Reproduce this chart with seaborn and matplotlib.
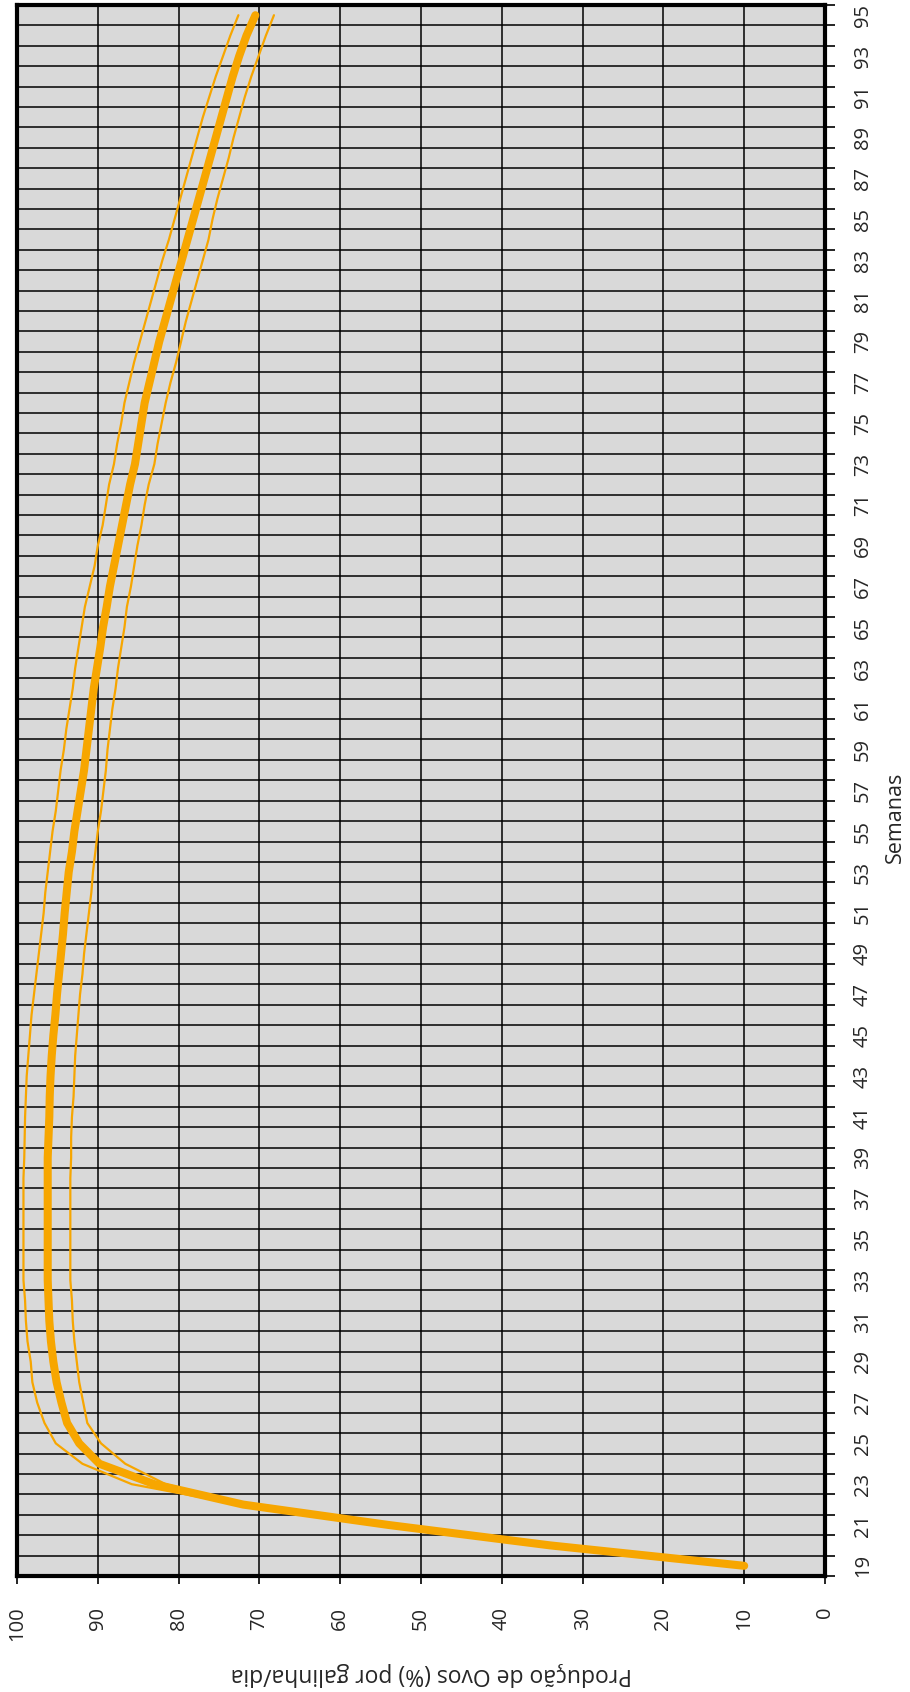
import numpy as np
import pandas as pd
import matplotlib
matplotlib.use("Agg")
import matplotlib.pyplot as plt
import seaborn as sns

# semanas de idade (eixo de categorias)
semanas = list(range(19, 96))

# producao media (% por galinha/dia), semanas 19..95
media = [10.0, 34.0, 54.0, 72.0, 83.0, 89.8, 92.3, 93.8, 94.5, 95.1,
         95.5, 95.8, 96.0, 96.1, 96.2, 96.2, 96.2, 96.2, 96.2, 96.2,
         96.2, 96.1, 96.0, 95.95, 95.85, 95.7, 95.5, 95.25, 95.05, 94.8,
         94.55, 94.3, 94.1, 93.85, 93.6, 93.2, 92.9, 92.5, 92.1, 91.7,
         91.4, 91.1, 90.8, 90.5, 90.1, 89.7, 89.35, 88.9, 88.5, 88.0,
         87.5, 87.0, 86.5, 86.0, 85.4, 85.0, 84.6, 84.2, 83.6, 83.0,
         82.4, 81.7, 81.0, 80.3, 79.6, 78.9, 78.2, 77.5, 76.8, 76.1,
         75.4, 74.7, 74.0, 73.3, 72.5, 71.6, 70.5]

# limites superior e inferior, semanas 22..95
semanas_faixa = list(range(22, 96))
superior = [72.4, 85.8, 91.9, 95.2, 96.6, 97.5, 98.1, 98.3, 98.7, 98.9,
            99.0, 99.2, 99.2, 99.2, 99.2, 99.2, 99.2, 99.1, 99.05, 99.0,
            98.9, 98.8, 98.6, 98.4, 98.2, 97.9, 97.6, 97.3, 97.0, 96.7,
            96.5, 96.2, 95.9, 95.6, 95.2, 94.9, 94.6, 94.2, 93.9, 93.5,
            93.1, 92.8, 92.4, 92.0, 91.6, 91.0, 90.4, 90.0, 89.4, 89.0,
            88.6, 88.0, 87.6, 87.1, 86.7, 86.1, 85.5, 84.8, 84.1, 83.4,
            82.7, 82.0, 81.2, 80.5, 79.8, 79.1, 78.4, 77.7, 77.0, 76.2,
            75.4, 74.5, 73.6, 72.6]
inferior = [71.7, 81.6, 86.6, 89.6, 91.3, 91.8, 92.3, 92.6, 92.9, 93.1,
            93.2, 93.4, 93.4, 93.4, 93.4, 93.4, 93.4, 93.3, 93.3, 93.2,
            93.0, 92.9, 92.8, 92.6, 92.4, 92.2, 91.9, 91.7, 91.4, 91.1,
            90.8, 90.6, 90.3, 90.0, 89.6, 89.3, 89.0, 88.8, 88.5, 88.2,
            87.8, 87.5, 87.1, 86.7, 86.4, 85.9, 85.5, 85.1, 84.6, 84.2,
            83.7, 83.0, 82.6, 82.1, 81.6, 81.0, 80.3, 79.7, 79.1, 78.4,
            77.7, 77.0, 76.3, 75.8, 75.2, 74.5, 73.8, 73.2, 72.5, 71.8,
            71.0, 70.1, 69.2, 68.2]

df_media = pd.DataFrame({"semana": semanas, "producao": media})
df_faixa = pd.DataFrame({"semana": semanas_faixa, "superior": superior,
                         "inferior": inferior})

sns.set_style("white", {"axes.facecolor": "#D9D9D9"})
plt.rcParams["font.family"] = ["Open Sans", "DejaVu Sans"]

cor = "#F7A600"

fig = plt.figure(figsize=(9.1, 16.92), dpi=100)
ax = fig.add_axes([17 / 910, 1 - 1576 / 1692, (825 - 17) / 910, (1576 - 5) / 1692])

# grafico girado: producao no eixo horizontal, semanas no vertical
sns.lineplot(data=df_faixa, x="superior", y="semana", sort=False,
             estimator=None, color=cor, lw=1.6, ax=ax)
sns.lineplot(data=df_faixa, x="inferior", y="semana", sort=False,
             estimator=None, color=cor, lw=1.6, ax=ax)
sns.lineplot(data=df_media, x="producao", y="semana", sort=False,
             estimator=None, color=cor, lw=5.8, ax=ax,
             solid_capstyle="round", solid_joinstyle="round")

ax.set_xlim(100, 0)
ax.set_ylim(18.5, 95.5)
ax.set_axisbelow(True)

ax.set_xticks(range(0, 101, 10))
ax.set_xticklabels([str(v) for v in range(0, 101, 10)])
ax.xaxis.grid(True, color="black", lw=1.1)
ax.tick_params(axis="x", which="major", bottom=True, length=6, width=1.2,
               color="black", labelsize=14.5, pad=16)
for lbl in ax.get_xticklabels():
    lbl.set_rotation(90)
    lbl.set_ha("center")
    lbl.set_va("top")

ax.yaxis.tick_right()
ax.set_yticks(semanas[::2])
ax.set_yticklabels([str(s) for s in semanas[::2]])
ax.set_yticks(np.arange(18.5, 96.0, 1.0), minor=True)
ax.yaxis.grid(False, which="major")
ax.yaxis.grid(True, which="minor", color="black", lw=1.1)
ax.tick_params(axis="y", which="major", length=0, right=True, left=False,
               labelright=True, labelleft=False, labelsize=14.5, pad=20)
ax.tick_params(axis="y", which="minor", length=7, width=1.2, right=True,
               left=False, color="black")
for lbl in ax.get_yticklabels():
    lbl.set_rotation(90)
    lbl.set_va("center")
    lbl.set_ha("left")

for s in ax.spines.values():
    s.set_visible(True)
    s.set_color("black")
    s.set_linewidth(3)

ax.set_xlabel("Produção de Ovos (%) por galinha/dia", rotation=180,
              fontsize=16.5, labelpad=14)
ax.xaxis.set_label_coords(0.513, -0.0625)
ax.xaxis.label.set_ha("center")
ax.xaxis.label.set_va("center")
ax.yaxis.set_label_position("right")
ax.set_ylabel("Semanas", rotation=90, fontsize=15.5)
ax.yaxis.set_label_coords(1.087, 0.483)
ax.yaxis.label.set_ha("center")
ax.yaxis.label.set_va("center")

fig.savefig("out.png", dpi=100)
